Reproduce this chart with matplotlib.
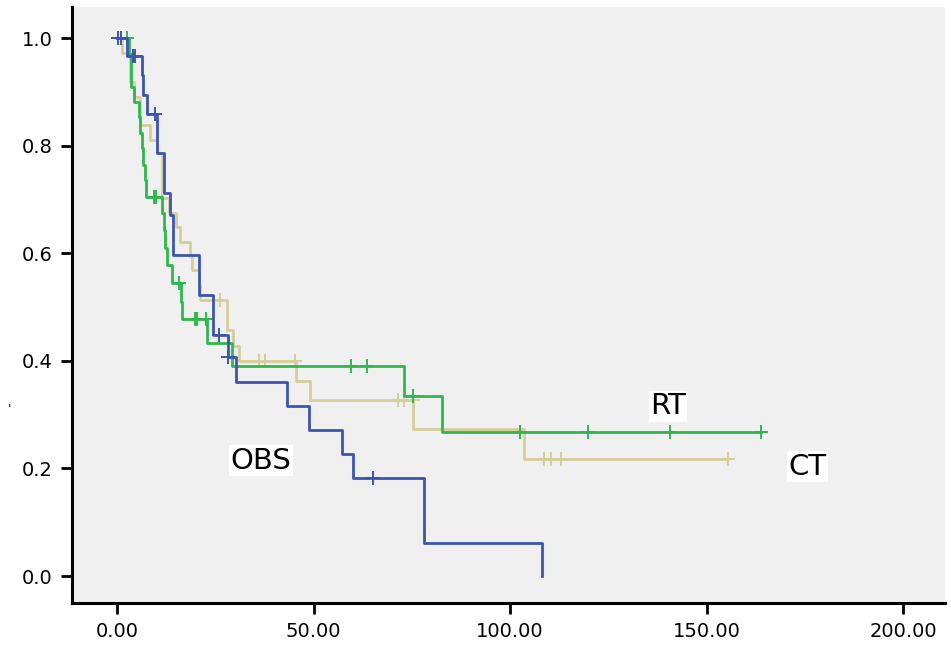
"""Kaplan-Meier style survival curves for the OBS / RT / CT groups."""

import matplotlib

matplotlib.use("Agg")
import matplotlib.pyplot as plt
import numpy as np
from matplotlib.ticker import FormatStrFormatter

FACE_COLOR = "#F0F0F0"
OBS_COLOR = "#3D55B0"
RT_COLOR = "#2DB84B"
CT_COLOR = "#D6CE98"

# event times (months) and survival after each event
obs_times = [2.5, 6.3, 6.5, 7.5, 10.1, 11.8, 13.5, 14.3, 20.9, 24.3, 28.1, 30.2,
             43.3, 48.9, 57.3, 60.1, 78.2, 108.2]
obs_surv = [0.967, 0.931, 0.894, 0.859, 0.786, 0.712, 0.671, 0.597, 0.522, 0.448,
            0.408, 0.361, 0.317, 0.271, 0.227, 0.182, 0.061, 0.0]
obs_censored = [0.1, 1.0, 4.0, 4.6, 9.7, 25.8, 28.3, 65.1]

rt_times = [3.0, 3.5, 4.2, 5.5, 5.8, 6.2, 6.6, 7.0, 7.4, 11.3, 11.8, 12.2, 12.6,
            13.9, 16.2, 16.5, 22.8, 29.2, 72.9, 82.6]
rt_surv = [0.97, 0.91, 0.882, 0.853, 0.823, 0.795, 0.765, 0.736, 0.705, 0.674,
           0.643, 0.609, 0.578, 0.545, 0.51, 0.477, 0.434, 0.390, 0.335, 0.268]
rt_censored = [2.6, 9.4, 9.8, 15.8, 19.8, 20.3, 22.6, 59.5, 63.5, 75.4, 102.4,
               119.9, 140.7, 163.8]

ct_times = [1.2, 3.3, 4.4, 5.7, 8.4, 10.1, 11.3, 13.3, 15.0, 16.0, 18.6, 19.0,
            20.7, 21.1, 27.9, 29.4, 30.9, 45.5, 49.1, 75.4, 103.6]
ct_surv = [0.973, 0.919, 0.891, 0.838, 0.810, 0.786, 0.702, 0.674, 0.649, 0.621,
           0.595, 0.569, 0.541, 0.514, 0.457, 0.428, 0.400, 0.363, 0.327, 0.273,
           0.217]
ct_censored = [26.2, 36.1, 37.7, 45.3, 71.6, 73.0, 75.2, 108.7, 110.5, 113.0, 155.5]

groups = [
    ("CT", ct_times, ct_surv, ct_censored, CT_COLOR, (175.8, 0.203)),
    ("RT", rt_times, rt_surv, rt_censored, RT_COLOR, (140.2, 0.316)),
    ("OBS", obs_times, obs_surv, obs_censored, OBS_COLOR, (36.6, 0.214)),
]


def survival_at(times, surv, t):
    idx = np.searchsorted(times, t, side="right")
    return 1.0 if idx == 0 else surv[idx - 1]


fig = plt.figure(figsize=(9.51, 6.46), dpi=100)
fig.patch.set_facecolor("white")
ax = fig.add_axes([0.0757, 0.0666, 0.918, 0.9224])
ax.set_facecolor(FACE_COLOR)

for name, times, surv, censored, color, label_pos in groups:
    end = max(times[-1], max(censored))
    x = [0.0] + list(times) + [end]
    y = [1.0] + list(surv) + [surv[-1]]
    ax.step(x, y, where="post", color=color, lw=2.0)
    cy = [survival_at(times, surv, t) for t in censored]
    ax.plot(censored, cy, linestyle="none", marker="+", color=color,
            markersize=10, markeredgewidth=1.4)
    ax.text(label_pos[0], label_pos[1], name, fontsize=21, ha="center",
            va="center", family="DejaVu Sans",
            bbox=dict(facecolor="white", edgecolor="none", pad=1.0))

ax.set_xlim(-11.5, 210.7)
ax.set_ylim(-0.05, 1.0576)
ax.set_xticks([0, 50, 100, 150, 200])
ax.set_yticks([0.0, 0.2, 0.4, 0.6, 0.8, 1.0])
ax.xaxis.set_major_formatter(FormatStrFormatter("%.2f"))
ax.yaxis.set_major_formatter(FormatStrFormatter("%.1f"))
ax.tick_params(direction="out", length=8, width=2, colors="black",
               labelsize=14, pad=6)
for lbl in ax.get_xticklabels() + ax.get_yticklabels():
    lbl.set_family("DejaVu Sans")

ax.spines["left"].set_linewidth(2.2)
ax.spines["bottom"].set_linewidth(2.2)
ax.spines["top"].set_visible(False)
ax.spines["right"].set_visible(False)

fig.text(0.008, 0.36, "'", fontsize=9, color="black")

fig.savefig("out.png", dpi=100)
plt.close(fig)
